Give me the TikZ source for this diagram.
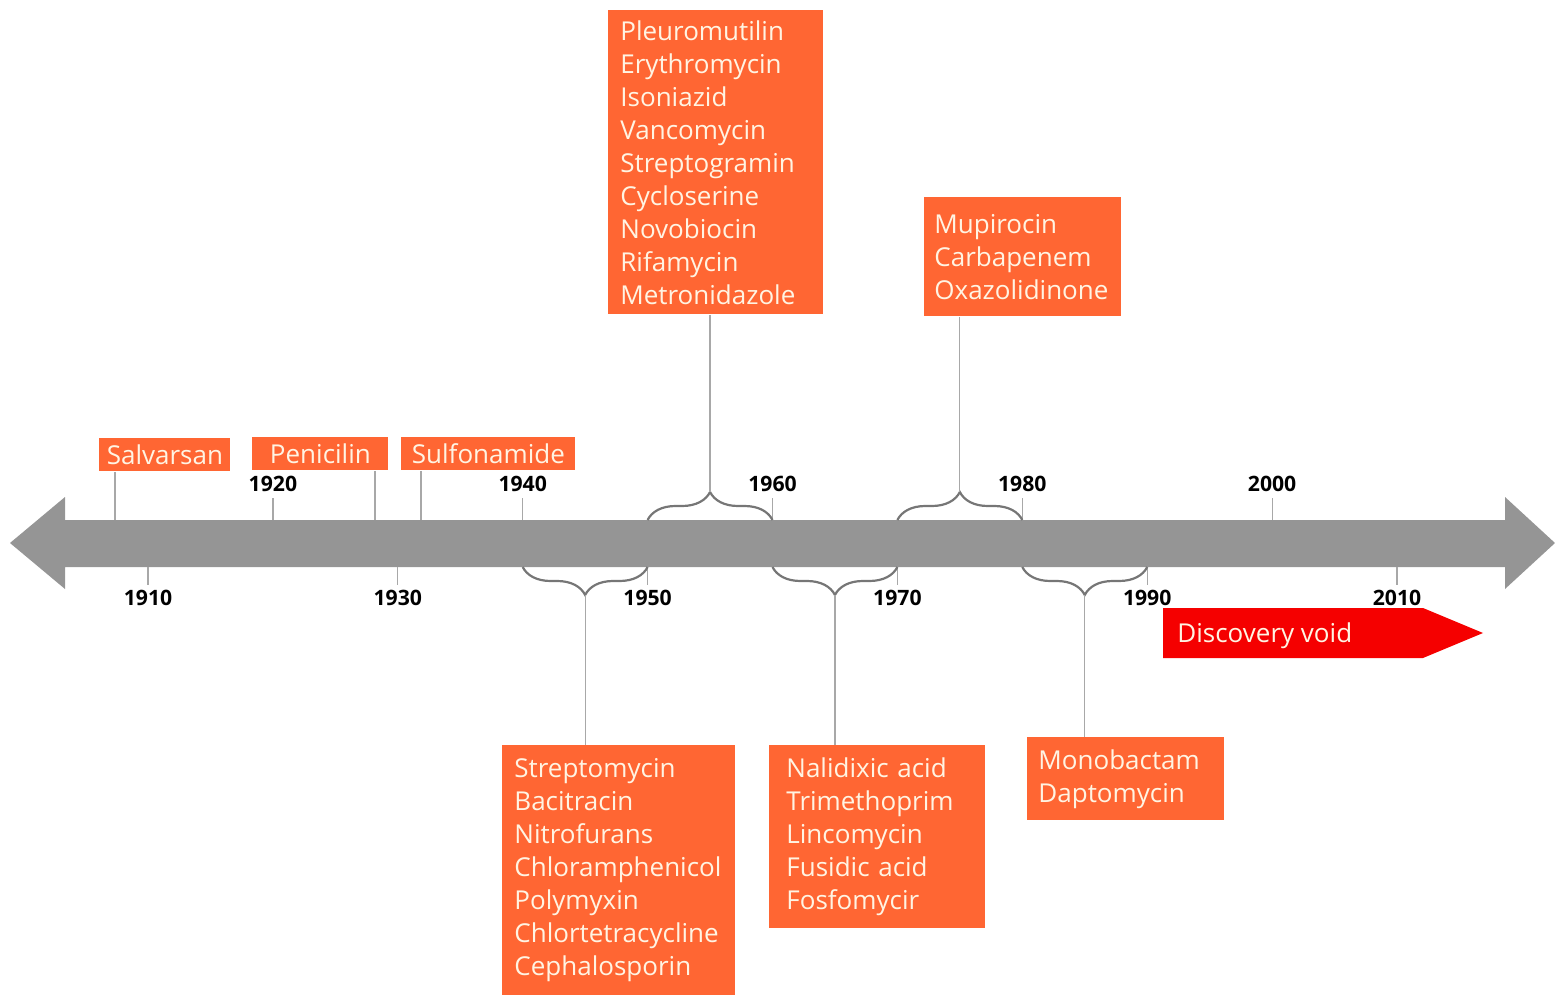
\documentclass[tikz,border=0pt]{standalone}
\usepackage{fontspec}
\setsansfont{Open Sans}
\usetikzlibrary{decorations.pathreplacing}
\definecolor{BoxClr}{RGB}{255,102,51}
\definecolor{TextClr}{RGB}{255,244,227}
\definecolor{BarClr}{RGB}{149,149,149}
\definecolor{LineClr}{RGB}{168,168,168}
\definecolor{BraceClr}{RGB}{118,118,118}
\definecolor{VoidClr}{RGB}{245,0,0}

\begin{document}
\begin{tikzpicture}[x=0.5pt,y=-0.5pt,
  drug/.style={fill=BoxClr,text=TextClr,font=\sffamily\fontsize{13}{16.5}\selectfont,
    align=left,anchor=north west,inner xsep=6pt,inner ysep=0pt},
  tag/.style={fill=BoxClr,text=TextClr,font=\sffamily\fontsize{13}{16.5}\selectfont,
    anchor=north west,inner sep=0pt,minimum height=16.5pt},
  yearlbl/.style={font=\sffamily\bfseries\fontsize{10.6}{12}\selectfont,anchor=base,inner sep=0pt},
  tickln/.style={draw=LineClr,line width=0.6pt},
  link/.style={draw=LineClr,line width=0.6pt},
  span/.style={draw=BraceClr,line width=1.1pt,decorate,decoration={brace,amplitude=14pt}}]

\useasboundingbox (0,0) rectangle (1555,995);

\foreach \y in {1910,1915,...,2010}
  \coordinate (y\y) at ({148+12.49*(\y-1910)},543);
\coordinate (top) at (0,520);
\coordinate (bot) at (0,567);

\fill[BarClr] (65,520) -- (1505,520) -- (1505,497) -- (1555,543) -- (1505,589)
  -- (1505,567) -- (65,567) -- (65,589) -- (10,543) -- (65,497) -- cycle;

\foreach \y in {1920,1940,...,2000}{
  \draw[tickln] (y\y |- top) -- (y\y |- 0,498);
  \node[yearlbl] (l\y) at (y\y |- 0,491) {\y};
}
\foreach \y in {1910,1930,...,2010}{
  \draw[tickln] (y\y |- bot) -- (y\y |- 0,585);
  \node[yearlbl] (l\y) at (y\y |- 0,605) {\y};
}

\draw[span] (y1950 |- top) -- (y1960 |- top);
\draw[span] (y1970 |- top) -- (y1980 |- top);
\draw[span] (y1950 |- bot) -- (y1940 |- bot);
\draw[span] (y1970 |- bot) -- (y1960 |- bot);
\draw[span] (y1990 |- bot) -- (y1980 |- bot);

\coordinate (t55) at (y1955 |- 0,492);
\coordinate (t75) at (y1975 |- 0,492);
\coordinate (t45) at (y1945 |- 0,595);
\coordinate (t65) at (y1965 |- 0,595);
\coordinate (t85) at (y1985 |- 0,595);
\coordinate (s1) at (115,520);
\coordinate (s2) at (375,520);
\coordinate (s3) at (421,520);

\node[tag,minimum width=65.5pt] (salv) at (99,438) {Salvarsan};
\node[tag,minimum width=68pt] (peni) at (252,437) {Penicilin};
\node[tag,minimum width=87pt] (sulf) at (401,437) {Sulfonamide};

\node[drug,text width=95.5pt,minimum height=152pt] (d50s) at (608,10)
  {Pleuromutilin\\Erythromycin\\Isoniazid\\Vancomycin\\Streptogramin\\Cycloserine\\Novobiocin\\Rifamycin\\Metronidazole};
\node[drug,inner xsep=5pt,text width=88.5pt,minimum height=59.5pt] (d70s) at (924,197)
  {Mupirocin\\Carbapenem\\Oxazolidinone};
\node[drug,text width=104.5pt,minimum height=125pt] (d40s) at (502,745)
  {Streptomycin\\Bacitracin\\Nitrofurans\\Chloramphenicol\\Polymyxin\\Chlortetracycline\\Cephalosporin};
\node[drug,inner xsep=8.5pt,text width=91pt,minimum height=91.5pt] (d60s) at (769,745)
  {Nalidixic acid\\Trimethoprim\\Lincomycin\\Fusidic acid\\Fosfomycir};
\node[drug,inner xsep=5.5pt,text width=87.5pt,minimum height=41.5pt] (d80s) at (1027,737)
  {Monobactam\\Daptomycin};

\draw[link] (salv.south -| s1) -- (s1);
\draw[link] (peni.south -| s2) -- (s2);
\draw[link] (sulf.south -| s3) -- (s3);
\draw[link] (d50s.south -| t55) -- (t55);
\draw[link] (d70s.south -| t75) -- (t75);
\draw[link] (t45) -- (t45 |- d40s.north);
\draw[link] (t65) -- (t65 |- d60s.north);
\draw[link] (t85) -- (t85 |- d80s.north);

\fill[VoidClr] (1163,608) -- (1423,608) -- (1483,633) -- (1423,658) -- (1163,658) -- cycle;
\node[anchor=west,inner sep=0pt,text=TextClr,font=\sffamily\fontsize{13}{16.5}\selectfont]
  (void) at (1177,636) {Discovery void};

\end{tikzpicture}
\end{document}
